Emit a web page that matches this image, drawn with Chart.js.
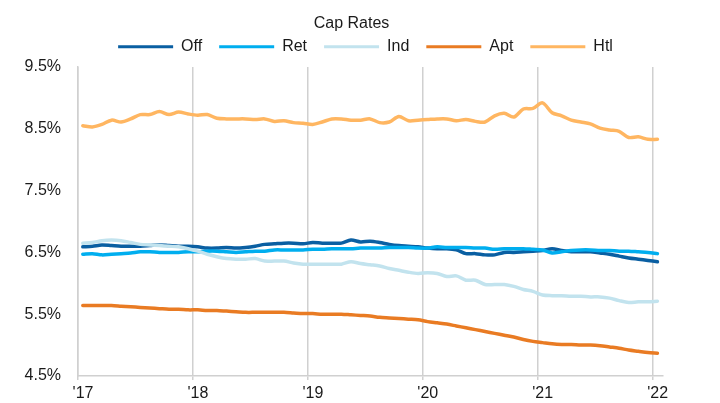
<!DOCTYPE html>
<html>
<head>
<meta charset="utf-8">
<script src="https://cdn.jsdelivr.net/npm/chart.js@4.4.1/dist/chart.umd.min.js"></script>
<style>
  html, body { margin: 0; padding: 0; background: #fff; }
</style>
</head>
<body>
<canvas id="capChart" width="720" height="403"></canvas>
<script>
// monthly observations, Jan-17 .. Jan-22
const months = [
  'Jan-17','Feb-17','Mar-17','Apr-17','May-17','Jun-17','Jul-17','Aug-17','Sep-17','Oct-17','Nov-17','Dec-17',
  'Jan-18','Feb-18','Mar-18','Apr-18','May-18','Jun-18','Jul-18','Aug-18','Sep-18','Oct-18','Nov-18','Dec-18',
  'Jan-19','Feb-19','Mar-19','Apr-19','May-19','Jun-19','Jul-19','Aug-19','Sep-19','Oct-19','Nov-19','Dec-19',
  'Jan-20','Feb-20','Mar-20','Apr-20','May-20','Jun-20','Jul-20','Aug-20','Sep-20','Oct-20','Nov-20','Dec-20',
  'Jan-21','Feb-21','Mar-21','Apr-21','May-21','Jun-21','Jul-21','Aug-21','Sep-21','Oct-21','Nov-21','Dec-21',
  'Jan-22'
];

const off = [6.59,6.60,6.62,6.61,6.60,6.60,6.60,6.61,6.62,6.61,
  6.60,6.60,6.59,6.57,6.57,6.58,6.57,6.58,6.60,6.63,
  6.64,6.65,6.65,6.64,6.66,6.65,6.65,6.65,6.70,6.67,
  6.68,6.66,6.63,6.61,6.60,6.59,6.57,6.56,6.56,6.54,
  6.48,6.48,6.46,6.46,6.50,6.50,6.51,6.52,6.53,6.56,
  6.53,6.51,6.51,6.51,6.49,6.47,6.44,6.41,6.39,6.37,6.35];
const ret = [6.47,6.48,6.46,6.47,6.48,6.49,6.51,6.51,6.50,6.50,
  6.50,6.51,6.51,6.52,6.52,6.51,6.50,6.51,6.52,6.52,
  6.54,6.54,6.54,6.54,6.55,6.55,6.56,6.56,6.56,6.57,
  6.57,6.57,6.58,6.58,6.58,6.57,6.57,6.59,6.58,6.58,
  6.58,6.57,6.57,6.55,6.56,6.56,6.56,6.55,6.54,6.49,
  6.51,6.53,6.54,6.54,6.53,6.53,6.52,6.52,6.51,6.50,6.48];
const ind = [6.65,6.66,6.69,6.70,6.69,6.66,6.63,6.62,6.61,6.60,
  6.59,6.56,6.52,6.47,6.43,6.40,6.39,6.39,6.40,6.36,
  6.36,6.36,6.33,6.31,6.31,6.31,6.31,6.31,6.35,6.32,
  6.30,6.28,6.24,6.21,6.18,6.16,6.17,6.16,6.11,6.12,
  6.05,6.05,5.98,5.98,5.98,5.95,5.90,5.87,5.81,5.80,
  5.80,5.79,5.79,5.78,5.78,5.76,5.72,5.69,5.70,5.70,5.71];
const apt = [5.64,5.64,5.64,5.64,5.63,5.62,5.61,5.60,5.59,5.58,
  5.58,5.57,5.57,5.56,5.56,5.55,5.54,5.53,5.53,5.53,
  5.53,5.53,5.52,5.51,5.51,5.50,5.50,5.50,5.49,5.48,
  5.47,5.45,5.44,5.43,5.42,5.41,5.38,5.36,5.34,5.31,
  5.28,5.25,5.22,5.19,5.16,5.13,5.09,5.06,5.04,5.02,
  5.01,5.01,5.00,5.00,4.99,4.97,4.95,4.92,4.90,4.88,4.87];
const htl = [8.55,8.53,8.57,8.64,8.61,8.66,8.73,8.73,8.78,8.73,
  8.77,8.74,8.72,8.73,8.67,8.66,8.66,8.66,8.65,8.66,
  8.62,8.63,8.60,8.59,8.57,8.61,8.66,8.66,8.64,8.64,
  8.66,8.60,8.61,8.70,8.63,8.64,8.65,8.66,8.66,8.63,
  8.65,8.62,8.61,8.71,8.75,8.69,8.82,8.83,8.92,8.76,
  8.71,8.64,8.61,8.58,8.51,8.48,8.46,8.36,8.37,8.33,8.33];

const seriesNames = ['Off', 'Ret', 'Ind', 'Apt', 'Htl'];
const seriesColors = ['#0A5FA2', '#00AEEF', '#C2E3EE', '#E97B23', '#FFB661'];
const yearTicks = [2017, 2018, 2019, 2020, 2021, 2022];
const yearLabels = ["'17", "'18", "'19", "'20", "'21", "'22"];
const yTicks = [4.5, 5.5, 6.5, 7.5, 8.5, 9.5];

const FONT = '"Liberation Sans", Arial, Helvetica, sans-serif';
const TEXT = '#1a1a1a';
const GRID = '#d0d0d0';

// month index -> position on a year axis (middle of the month)
const monthX = (i) => 2017 + (i + 0.5) / 12;

const toPoints = (vals) => vals.map((v, i) => ({ x: monthX(i), y: v }));

const allSeries = [off, ret, ind, apt, htl];
const datasets = allSeries.map((vals, k) => ({
  label: seriesNames[k],
  data: toPoints(vals),
  borderColor: seriesColors[k],
  backgroundColor: seriesColors[k],
  borderWidth: 3.5,
  pointRadius: 0,
  tension: 0.3,
  borderCapStyle: 'round',
  borderJoinStyle: 'round',
  order: allSeries.length - k   // later series sit on top, like the source
}));

// move the header pieces into place after layout has been worked out
const nudgeHeader = {
  id: 'nudgeHeader',
  afterLayout(chart) {
    const t = chart.titleBlock;
    const l = chart.legend;
    t.top += 9.6; t.bottom += 9.6;
    t.left += 20; t.right += 20;
    l.top -= 2.3; l.bottom -= 2.3;
    l.left += 34; l.right += 34;
  }
};

const ctx = document.getElementById('capChart');
const capChart = new Chart(ctx, {
  type: 'line',
  data: { datasets: datasets },
  plugins: [nudgeHeader],
  options: {
    responsive: false,
    animation: false,
    devicePixelRatio: 1,
    layout: { padding: { left: 0, right: 57, top: 0, bottom: 0 } },
    plugins: {
      title: {
        display: true,
        text: 'Cap Rates',
        color: TEXT,
        font: { family: FONT, size: 16, weight: 'normal' },
        padding: { top: 4.8, bottom: 0 }
      },
      legend: {
        labels: {
          boxWidth: 55,
          boxHeight: 3,
          padding: 17,
          color: TEXT,
          font: { family: FONT, size: 16 },
          generateLabels: (chart) => chart.data.datasets.map((ds, i) => ({
            text: ds.label,
            fillStyle: ds.borderColor,
            strokeStyle: ds.borderColor,
            lineWidth: 0,
            fontColor: TEXT,
            hidden: false,
            datasetIndex: i
          }))
        }
      },
      tooltip: { enabled: false }
    },
    scales: {
      x: {
        type: 'linear',
        min: 2017,
        max: 2022.09,
        afterBuildTicks: (s) => { s.ticks = yearTicks.map(v => ({ value: v })); },
        afterFit: (s) => { s.height = 27; },
        ticks: {
          callback: (v, i) => yearLabels[i],
          labelOffset: 5,
          padding: 4,
          maxRotation: 0,
          autoSkip: false,
          color: TEXT,
          font: { family: FONT, size: 16 }
        },
        grid: { color: GRID, lineWidth: 1.5, tickLength: 4 },
        border: { color: GRID, width: 1.5 }
      },
      y: {
        min: 4.5,
        max: 9.5,
        afterBuildTicks: (s) => { s.ticks = yTicks.map(v => ({ value: v })); },
        afterFit: (s) => { s.width = 78; },
        ticks: {
          callback: (v) => v.toFixed(1) + '%',
          padding: 17,
          color: TEXT,
          font: { family: FONT, size: 16 }
        },
        grid: { display: false, drawTicks: false },
        border: { display: true, color: GRID, width: 1.5 }
      }
    }
  }
});
</script>
</body>
</html>
